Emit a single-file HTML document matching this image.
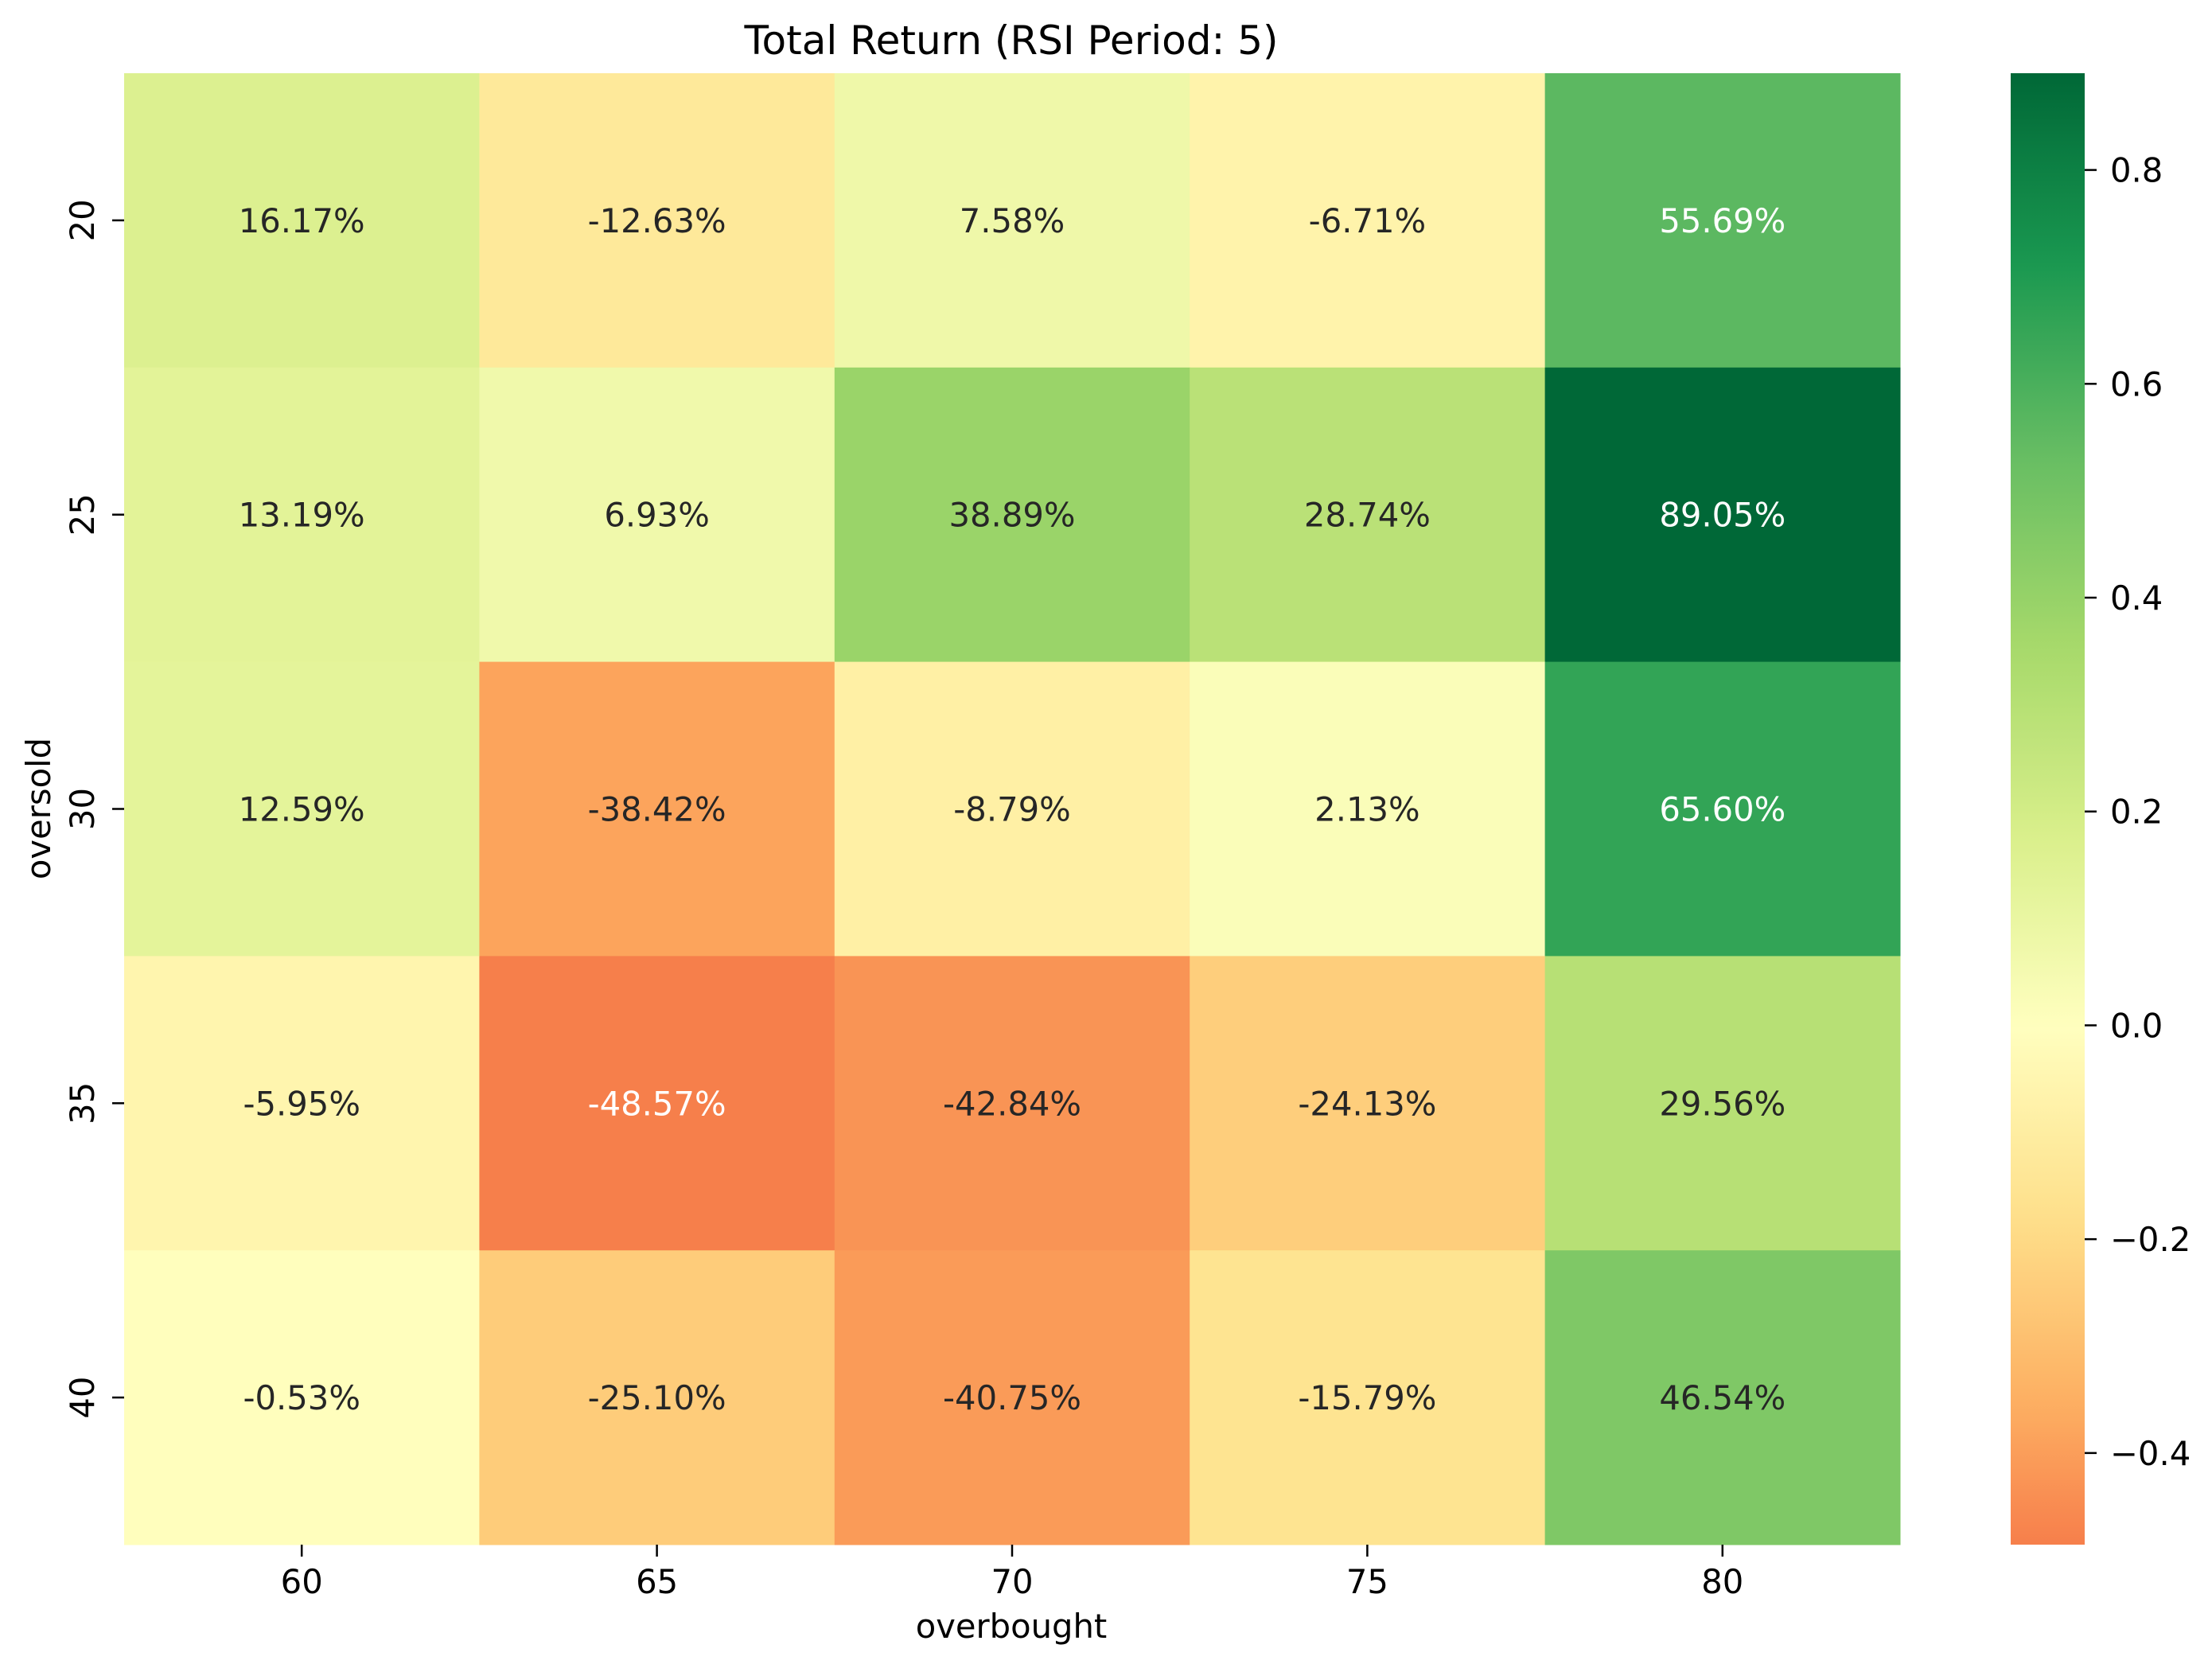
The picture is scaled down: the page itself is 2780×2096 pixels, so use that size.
<!DOCTYPE html>
<html><head><meta charset="utf-8"><style>
html,body{margin:0;padding:0;background:#fff;}
svg{display:block;font-family:"DejaVu Sans","Liberation Sans",sans-serif;}
</style></head><body>
<svg id="chart" width="2780" height="2096" viewBox="0 0 2780 2096" xmlns="http://www.w3.org/2000/svg">
<text x="1271" y="68" font-size="50" text-anchor="middle" fill="#000">Total Return (RSI Period: 5)</text>
<text x="1271" y="2058" font-size="41.7" text-anchor="middle" fill="#000">overbought</text>
<text transform="translate(63,1016) rotate(-90)" font-size="41.7" text-anchor="middle" fill="#000">oversold</text>
<g id="cells"></g>
<g id="xticks"></g>
<g id="yticks"></g>
<defs><linearGradient id="cbgrad" x1="0" y1="1" x2="0" y2="0"></linearGradient></defs>
<rect x="2527" y="92" width="93" height="1849" fill="url(#cbgrad)"/>
<g id="cbticks"></g>
</svg>
<script>
const xCategories = ["60","65","70","75","80"];
const yCategories = ["20","25","30","35","40"];
const row20 = [0.1617,-0.1263,0.0758,-0.0671,0.5569];
const row25 = [0.1319,0.0693,0.3889,0.2874,0.8905];
const row30 = [0.1259,-0.3842,-0.0879,0.0213,0.6560];
const row35 = [-0.0595,-0.4857,-0.4284,-0.2413,0.2956];
const row40 = [-0.0053,-0.2510,-0.4075,-0.1579,0.4654];
const cbTickValues = [-0.4,-0.2,0.0,0.2,0.4,0.6,0.8];

const rows = [row20,row25,row30,row35,row40];
const NS = "http://www.w3.org/2000/svg";
const L=156,R=2388,T=92,B=1941;
const cw=(R-L)/xCategories.length, ch=(B-T)/yCategories.length;
const all=rows.flat();
const vmin=Math.min(...all), vmax=Math.max(...all);
const span=Math.max(Math.abs(vmin),Math.abs(vmax));
const stops=["#a50026","#d73027","#f46d43","#fdae61","#fee08b","#ffffbf","#d9ef8b","#a6d96a","#66bd63","#1a9850","#006837"].map(h=>[parseInt(h.substr(1,2),16),parseInt(h.substr(3,2),16),parseInt(h.substr(5,2),16)]);
function cmap(v){
  let t=(v+span)/(2*span); t=Math.max(0,Math.min(1,t));
  const p=t*10, i=Math.min(9,Math.floor(p)), f=p-i;
  return stops[i].map((c,k)=>Math.round(c+(stops[i+1][k]-c)*f));
}
function lum(c){const l=c.map(x=>{x/=255;return x<=0.03928?x/12.92:Math.pow((x+0.055)/1.055,2.4)});return 0.2126*l[0]+0.7152*l[1]+0.0722*l[2];}
const xs=i=>L+(i+0.5)*cw, ys=j=>T+(j+0.5)*ch;
const cbY=v=>B-(v-vmin)/(vmax-vmin)*(B-T);
function mk(tag,attrs,parent,text){const e=document.createElementNS(NS,tag);for(const k in attrs)e.setAttribute(k,attrs[k]);if(text!==undefined)e.textContent=text;parent.appendChild(e);return e;}
const cells=document.getElementById('cells');
rows.forEach((row,j)=>row.forEach((v,i)=>{
  const c=cmap(v);
  const r=mk('rect',{x:L+i*cw,y:T+j*ch,width:cw+0.5,height:ch+0.5,fill:`rgb(${c})`},cells);
  
  
  const t=mk('text',{x:xs(i),y:ys(j)+15,'font-size':41.7,'text-anchor':'middle',fill:lum(c)>0.408?'#262626':'#ffffff'},cells,(v*100).toFixed(2)+'%');
  
  
}));
const xg=document.getElementById('xticks');
xCategories.forEach((c,i)=>{
  const l=mk('line',{x1:xs(i),x2:xs(i),y1:B,y2:B+15,stroke:'#000','stroke-width':2.5},xg);
  
  
  const t=mk('text',{x:xs(i),y:2002,'font-size':41.7,'text-anchor':'middle',fill:'#000'},xg,c);
  
  
});
const yg=document.getElementById('yticks');
yCategories.forEach((c,j)=>{
  const l=mk('line',{x1:L-15,x2:L,y1:ys(j),y2:ys(j),stroke:'#000','stroke-width':2.5},yg);
  
  
  const t=mk('text',{transform:`translate(118,${ys(j)}) rotate(-90)`,'font-size':41.7,'text-anchor':'middle',fill:'#000'},yg,c);
  
  
});
const grad=document.getElementById('cbgrad');
for(let k=0;k<=60;k++){const v=vmin+(vmax-vmin)*k/60;mk('stop',{offset:k/60,'stop-color':`rgb(${cmap(v)})`},grad);}
const cg=document.getElementById('cbticks');
cbTickValues.forEach(v=>{
  const y=cbY(v);
  const l=mk('line',{x1:2620,x2:2635,y1:y,y2:y,stroke:'#000','stroke-width':2.5},cg);
  
  
  const t=mk('text',{x:2652,y:y+15,'font-size':41.7,fill:'#000'},cg,(v<0?'\u2212':'')+Math.abs(v).toFixed(1));
  
  
});
</script>
</body></html>
